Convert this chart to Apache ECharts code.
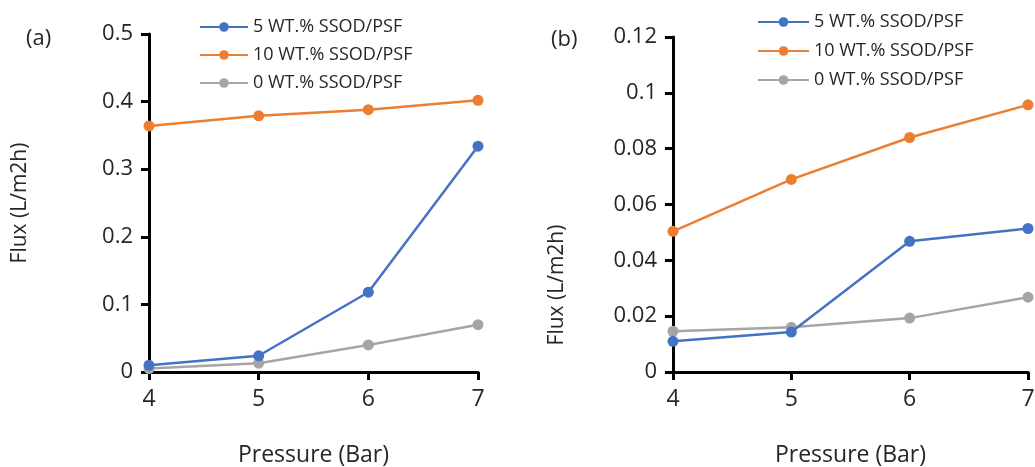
<!DOCTYPE html>
<html>
<head>
<meta charset="utf-8">
<script src="https://cdn.jsdelivr.net/npm/echarts@6/dist/echarts.min.js"></script>
<style>
  html, body { margin: 0; padding: 0; background: #fff; }
  #chart { width: 1035px; height: 467px; }
</style>
</head>
<body>
<div id="chart"></div>
<script>
let pressure = [4, 5, 6, 7]
let seriesNames = ['5 WT.% SSOD/PSF', '10 WT.% SSOD/PSF', '0 WT.% SSOD/PSF']
let colors = ['#4472C4', '#ED7D31', '#A5A5A5']

// (a)
let fluxA5 = [0.010, 0.024, 0.118, 0.334]
let fluxA10 = [0.364, 0.379, 0.388, 0.402]
let fluxA0 = [0.005, 0.013, 0.040, 0.070]

// (b)
let fluxB5 = [0.011, 0.0143, 0.0468, 0.0514]
let fluxB10 = [0.0504, 0.069, 0.084, 0.0957]
let fluxB0 = [0.0146, 0.016, 0.0193, 0.0268]

let chart = echarts.init(document.getElementById('chart'))
let font = 'Open Sans'
let textColor = '#262626'

function pairs(vals) {
    return pressure.map((p, i) => [p, vals[i]])
}

function makeSeries(idx, lists) {
    return lists.map((vals, i) => ({
        name: seriesNames[i],
        type: 'line',
        xAxisIndex: idx,
        yAxisIndex: idx,
        data: pairs(vals),
        symbol: 'circle',
        symbolSize: 11,
        color: colors[i],
        lineStyle: {width: 2.5},
        z: i == 2 ? 2 : 3
    }))
}

function xAxis(idx) {
    return {
        type: 'value', gridIndex: idx, min: 4, max: 7, interval: 1,
        name: 'Pressure (Bar)', nameLocation: 'middle', nameGap: 72,
        nameTextStyle: {fontFamily: font, fontSize: 23, color: textColor},
        splitLine: {show: false},
        axisLine: {show: true, lineStyle: {color: '#000', width: 3}},
        axisTick: {show: true, inside: false, lineStyle: {color: '#000', width: 3}, length: 8},
        axisLabel: {fontFamily: font, fontSize: 23, color: textColor, margin: 16}
    }
}

function yAxis(idx, max, interval, name) {
    return {
        type: 'value', gridIndex: idx, min: 0, max: max, interval: interval,
        name: name, nameLocation: 'middle', nameGap: 118,
        nameTextStyle: {fontFamily: font, fontSize: 21, color: textColor},
        splitLine: {show: false},
        axisLine: {show: true, lineStyle: {color: '#000', width: 3}},
        axisTick: {show: true, inside: false, lineStyle: {color: '#000', width: 3}, length: 8},
        axisLabel: {fontFamily: font, fontSize: 22, color: textColor, margin: 16}
    }
}

let legendText = {fontFamily: font, fontSize: 18, color: textColor}

let option = {
    animation: false,
    grid: [
        {left: 149, right: 557, top: 34, bottom: 95, outerBoundsMode: 'none'},
        {left: 673, right: 7, top: 37, bottom: 95, outerBoundsMode: 'none'}
    ],
    legend: [
        {
            data: seriesNames, left: 194, top: 13, orient: 'vertical', itemGap: 10,
            itemWidth: 48, itemHeight: 12, textStyle: legendText
        },
        {
            data: seriesNames, left: 752, top: 8, orient: 'vertical', itemGap: 11,
            itemWidth: 51, itemHeight: 12, textStyle: legendText
        }
    ],
    xAxis: [xAxis(0), xAxis(1)],
    yAxis: [
        yAxis(0, 0.5, 0.1, 'Flux (L/m2h)'),
        yAxis(1, 0.12, 0.02, '')
    ],
    graphic: [
        {type: 'text', left: 26, top: 28, style: {text: '(a)', fontFamily: font, fontSize: 22, fill: textColor}},
        {type: 'text', left: 551, top: 29, style: {text: '(b)', fontFamily: font, fontSize: 22, fill: textColor}},
        {type: 'text', x: 557, y: 285, rotation: Math.PI / 2,
         style: {text: 'Flux (L/m2h)', fontFamily: font, fontSize: 21, fill: textColor, align: 'center', verticalAlign: 'middle'}}
    ],
    series: makeSeries(0, [fluxA5, fluxA10, fluxA0]).concat(makeSeries(1, [fluxB5, fluxB10, fluxB0]))
}
chart.setOption(option)
</script>
</body>
</html>
